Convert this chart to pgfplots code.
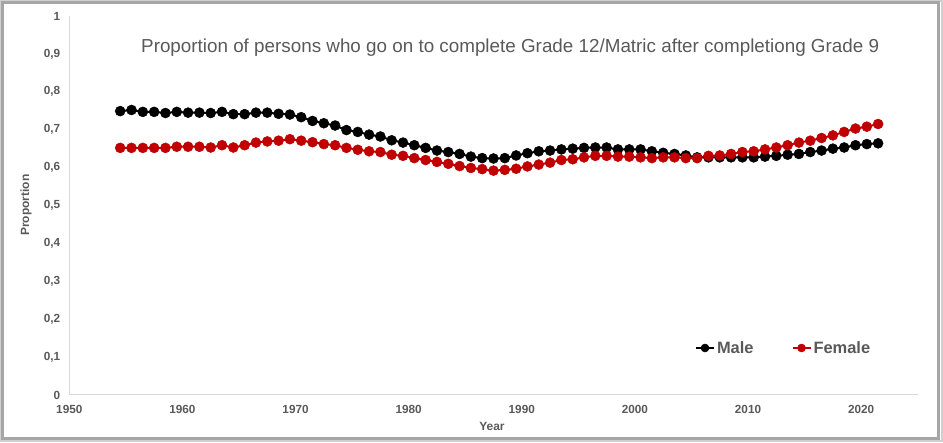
\documentclass[border=0pt]{standalone}
\usepackage{fontspec}
\setmainfont{Liberation Sans}
\usepackage{pgfplots}
\usepackage{pgfplotstable}
\pgfplotsset{compat=1.18}
\definecolor{txtgray}{HTML}{595959}
\definecolor{axgray}{HTML}{D9D9D9}
\definecolor{framegray}{HTML}{A6A6A6}
\definecolor{shadowgray}{HTML}{D0D0D0}
\definecolor{femred}{HTML}{C00000}

\pgfplotstableread{
i male female
0 0.749 0.652
1 0.752 0.652
2 0.747 0.652
3 0.747 0.652
4 0.744 0.652
5 0.747 0.655
6 0.745 0.655
7 0.745 0.655
8 0.744 0.653
9 0.747 0.659
10 0.741 0.653
11 0.741 0.659
12 0.745 0.666
13 0.745 0.669
14 0.742 0.671
15 0.740 0.675
16 0.733 0.671
17 0.723 0.667
18 0.717 0.662
19 0.711 0.659
20 0.699 0.652
21 0.694 0.647
22 0.687 0.643
23 0.682 0.641
24 0.672 0.634
25 0.666 0.631
26 0.659 0.625
27 0.652 0.620
28 0.645 0.615
29 0.641 0.610
30 0.636 0.604
31 0.629 0.599
32 0.625 0.596
33 0.624 0.592
34 0.625 0.594
35 0.632 0.597
36 0.638 0.603
37 0.643 0.608
38 0.645 0.613
39 0.648 0.620
40 0.650 0.622
41 0.652 0.627
42 0.653 0.631
43 0.653 0.631
44 0.648 0.629
45 0.648 0.629
46 0.648 0.627
47 0.643 0.625
48 0.639 0.627
49 0.636 0.627
50 0.632 0.625
51 0.627 0.625
52 0.627 0.631
53 0.627 0.632
54 0.627 0.636
55 0.627 0.641
56 0.627 0.643
57 0.629 0.648
58 0.631 0.653
59 0.634 0.659
60 0.636 0.666
61 0.641 0.671
62 0.645 0.678
63 0.650 0.685
64 0.653 0.694
65 0.659 0.703
66 0.662 0.708
67 0.664 0.715
}\datatable

\begin{document}
\begin{tikzpicture}[x=1bp,y=1bp]
\begin{axis}[
  at={(0,0)}, anchor=south west,
  scale only axis,
  width=848.4bp, height=379bp,
  xmin=1950, xmax=2025, ymin=0, ymax=1,
  axis x line*=bottom, axis y line*=left,
  axis line style={draw=axgray, line width=1bp},
  major tick length=0pt,
  xtick={1950,1960,...,2020},
  ytick={0,0.1,...,1},
  /pgf/number format/assume math mode=true,
  /pgf/number format/use comma,
  /pgf/number format/fixed,
  /pgf/number format/precision=1,
  xticklabel={\pgfmathprintnumber[1000 sep={}]{\tick}},
  tick label style={font=\bfseries\fontsize{11.8}{12}\selectfont, text=txtgray, inner sep=0pt},
  xticklabel shift=10bp,
  yticklabel shift=9bp,
  xlabel={Year},
  ylabel={Proportion},
  label style={font=\bfseries\fontsize{12}{13}\selectfont, text=txtgray, inner sep=0pt},
  xlabel style={at={(axis description cs:0.4982,-0.0818)}, anchor=center},
  ylabel style={at={(axis description cs:-0.051,0.501)}, anchor=center},
  title={Proportion of persons who go on to complete Grade 12/Matric after completiong Grade 9},
  title style={at={(axis description cs:0.0845,0.901)}, anchor=west, inner sep=0pt,
    font=\fontsize{18.9}{20}\selectfont, text=txtgray},
  legend columns=2,
  legend style={at={(axis description cs:0.7375,0.124)}, anchor=west,
    draw=none, fill=none, inner sep=0pt, outer sep=0pt,
    font=\bfseries\fontsize{16.5}{18}\selectfont, text=txtgray,
    nodes={inner sep=2bp},
    /tikz/every even column/.append style={column sep=36bp}},
  legend image code/.code={\draw[mark repeat=2,mark phase=2,#1,mark size=4bp] plot coordinates {(0bp,0bp)(9bp,0bp)(18bp,0bp)};},
  every axis plot/.append style={line width=2bp, mark=*, mark size=5bp},
]
\addplot[color=black, mark options={fill=black, line width=0.5bp}] table[x expr=1954.5+\thisrow{i}, y=male] {\datatable};
\addlegendentry{Male}
\addplot[color=femred, mark options={fill=femred, line width=0.5bp}] table[x expr=1954.5+\thisrow{i}, y=female] {\datatable};
\addlegendentry{Female}
\end{axis}
\draw[shadowgray, line width=2bp] (-68.3,-46.5) rectangle (872.2,394);
\draw[framegray, line width=2.5bp] (-66.8,-43.5) rectangle (869.2,392.5);
\pgfresetboundingbox
\useasboundingbox (-69.3,-48) rectangle (873.7,395);
\end{tikzpicture}
\end{document}
